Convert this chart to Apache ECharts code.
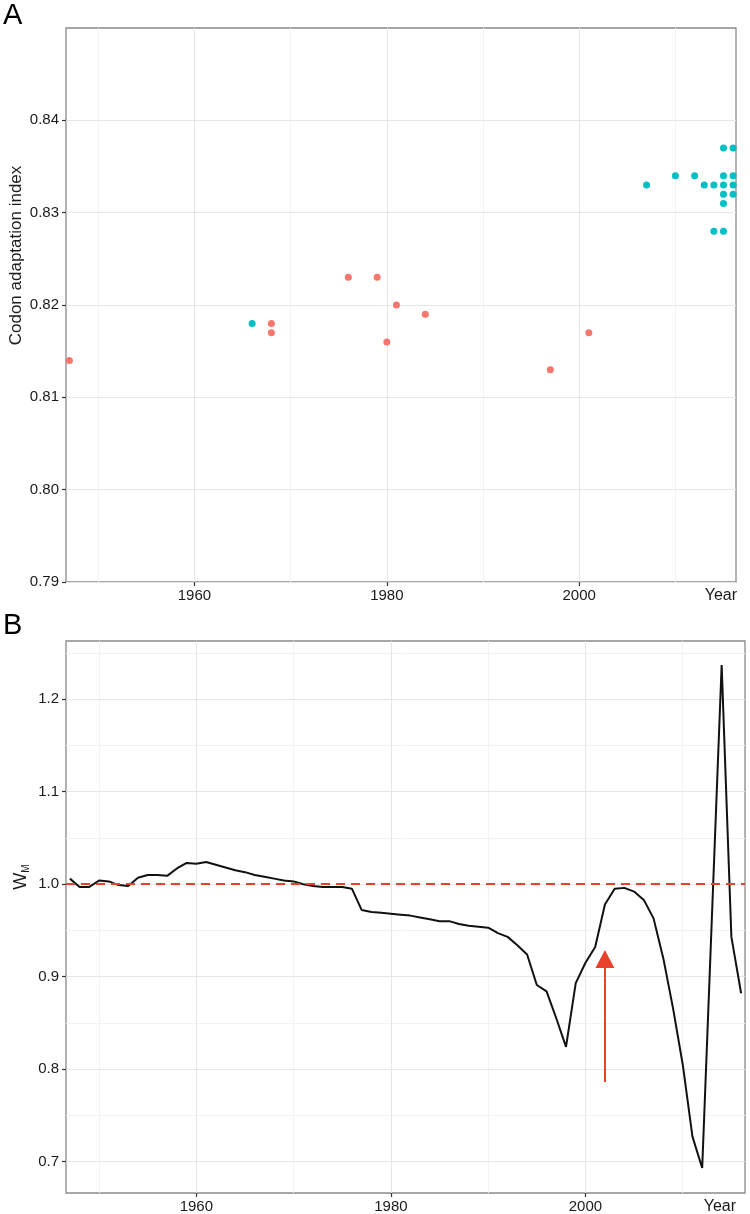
<!DOCTYPE html>
<html><head><meta charset="utf-8">
<script src="https://cdn.jsdelivr.net/npm/echarts@6/dist/echarts.min.js"></script>
<style>html,body{margin:0;padding:0;background:#fff}#c{width:750px;height:1214px}</style>
</head><body><div id="c"></div>
<script>
// ---- Panel A data ----
const redYears = [1947, 1968, 1968, 1976, 1979, 1980, 1981, 1984, 1997, 2001];
const redCAI   = [0.814, 0.818, 0.817, 0.823, 0.823, 0.816, 0.820, 0.819, 0.813, 0.817];
const cyanYears = [1966, 2007, 2010, 2012, 2013, 2014, 2014, 2015, 2015, 2015, 2015, 2015, 2015, 2016, 2016, 2016, 2016];
const cyanCAI   = [0.818, 0.833, 0.834, 0.834, 0.833, 0.833, 0.828, 0.837, 0.834, 0.833, 0.832, 0.831, 0.828, 0.837, 0.834, 0.833, 0.832];

// ---- Panel B data ----
const years = [1947,1948,1949,1950,1951,1952,1953,1954,1955,1956,1957,1958,1959,1960,1961,1962,1963,1964,1965,1966,
               1967,1968,1969,1970,1971,1972,1973,1974,1975,1976,1977,1978,1979,1980,1981,1982,1983,1984,1985,1986,
               1987,1988,1989,1990,1991,1992,1993,1994,1995,1996,1997,1998,1999,2000,2001,2002,2003,2004,2005,2006,
               2007,2008,2009,2010,2011,2012,2013,2014,2015,2016];
const wm = [1.006,0.997,0.997,1.004,1.003,0.999,0.998,1.007,1.010,1.010,1.009,1.017,1.023,1.022,1.024,1.021,1.018,1.015,1.013,1.010,
            1.008,1.006,1.004,1.003,1.000,0.998,0.997,0.997,0.997,0.995,0.972,0.970,0.969,0.968,0.967,0.966,0.964,0.962,0.960,0.960,
            0.957,0.955,0.954,0.953,0.947,0.943,0.934,0.924,0.891,0.884,0.855,0.824,0.893,0.915,0.932,0.978,0.995,0.996,0.992,0.983,
            0.963,0.920,0.866,0.805,0.727,0.693,0.965,1.237,0.943,0.882];
const refLine = 1.0;
const arrowYear = 2002;
const arrowFrom = 0.786;
const arrowTo = 0.919;

// ---- Ticks ----
const xLabelYears = [1960, 1980, 2000];
const xMinorYears = [1950, 1970, 1990, 2010];
const caiTicks = [0.79, 0.80, 0.81, 0.82, 0.83, 0.84];
const caiMinor = [0.795, 0.805, 0.815, 0.825, 0.835, 0.845];
const wmTicks = [0.7, 0.8, 0.9, 1.0, 1.1, 1.2];
const wmMinor = [0.75, 0.85, 0.95, 1.05, 1.15, 1.25];

const FONT = "'Liberation Sans', Arial, Helvetica, sans-serif";
const MAJOR = '#e6e6e6', MINOR = '#f2f2f2';
const RED = '#F8766D', CYAN = '#00BFC4', LINE_RED = '#E8412C';

function gridLines(xs, ys, color, width) {
  return xs.map(v => ({xAxis: v, lineStyle: {color: color, width: width, type: 'solid'}}))
    .concat(ys.map(v => ({yAxis: v, lineStyle: {color: color, width: width, type: 'solid'}})));
}
function gridSeries(idx, majorX, minorX, majorY, minorY) {
  return {
    type: 'line', xAxisIndex: idx, yAxisIndex: idx, data: [], silent: true, z: 0,
    markLine: {
      silent: true, z: 0, symbol: ['none', 'none'], animation: false,
      label: {show: false},
      data: gridLines(minorX, minorY, MINOR, 1).concat(gridLines(majorX, majorY, MAJOR, 1))
    }
  };
}
const tickStyle = {length: 4, lineStyle: {color: '#333', width: 1.2}};
const labelStyle = {fontSize: 15, color: '#1a1a1a', fontFamily: FONT};

const option = {
  animation: false,
  backgroundColor: '#fff',
  title: [
    {text: 'A', left: 3, top: 1, padding: 0, textStyle: {fontSize: 29, fontWeight: 'normal', color: '#000', fontFamily: FONT}},
    {text: 'B', left: 3, top: 611, padding: 0, textStyle: {fontSize: 29, fontWeight: 'normal', color: '#000', fontFamily: FONT}}
  ],
  grid: [
    {left: 66, right: 14, top: 28, bottom: 632, show: true, borderColor: '#8a8a8a', borderWidth: 1.3,
     backgroundColor: 'transparent', containLabel: false, outerBoundsMode: 'none'},
    {left: 66, right: 5, top: 641, bottom: 21, show: true, borderColor: '#8a8a8a', borderWidth: 1.3,
     backgroundColor: 'transparent', containLabel: false, outerBoundsMode: 'none'}
  ],
  xAxis: [
    {gridIndex: 0, type: 'value', min: 1946.65, max: 2016.3,
     axisLine: {show: false}, splitLine: {show: false},
     axisTick: Object.assign({customValues: xLabelYears}, tickStyle),
     axisLabel: Object.assign({customValues: xLabelYears, margin: 6, formatter: v => String(v)}, labelStyle),
     name: 'Year', nameLocation: 'end', nameGap: 1, nameMoveOverlap: false,
     nameTextStyle: {align: 'right', verticalAlign: 'top', padding: [6, 0, 0, 0], fontSize: 16, color: '#1a1a1a', fontFamily: FONT}},
    {gridIndex: 1, type: 'value', min: 1946.6, max: 2016.4,
     axisLine: {show: false}, splitLine: {show: false},
     axisTick: Object.assign({customValues: xLabelYears}, tickStyle),
     axisLabel: Object.assign({customValues: xLabelYears, margin: 6, formatter: v => String(v)}, labelStyle),
     name: 'Year', nameLocation: 'end', nameGap: -9, nameMoveOverlap: false,
     nameTextStyle: {align: 'right', verticalAlign: 'top', padding: [6, 0, 0, 0], fontSize: 16, color: '#1a1a1a', fontFamily: FONT}}
  ],
  yAxis: [
    {gridIndex: 0, type: 'value', min: 0.79, max: 0.85,
     axisLine: {show: false}, splitLine: {show: false},
     axisTick: Object.assign({customValues: caiTicks}, tickStyle),
     axisLabel: Object.assign({customValues: caiTicks, margin: 7, formatter: v => v.toFixed(2)}, labelStyle),
     name: 'Codon adaptation index', nameLocation: 'middle', nameGap: 41, nameMoveOverlap: false,
     nameTextStyle: {fontSize: 17, color: '#1a1a1a', fontFamily: FONT, padding: [0, 0, 0, 99]}},
    {gridIndex: 1, type: 'value', min: 0.666, max: 1.263,
     axisLine: {show: false}, splitLine: {show: false},
     axisTick: Object.assign({customValues: wmTicks}, tickStyle),
     axisLabel: Object.assign({customValues: wmTicks, margin: 7, formatter: v => v.toFixed(1)}, labelStyle),
     name: '{w|W}{m|M}', nameLocation: 'middle', nameGap: 33, nameMoveOverlap: false,
     nameTextStyle: {color: '#1a1a1a', fontFamily: FONT, padding: [0, 0, 0, 80],
       rich: {w: {fontSize: 18, fontFamily: FONT, color: '#1a1a1a', lineHeight: 24, verticalAlign: 'middle'},
              m: {fontSize: 10, fontFamily: FONT, color: '#1a1a1a', lineHeight: 24, verticalAlign: 'bottom', padding: [0, 0, 2, 0]}}}}
  ],
  series: [
    gridSeries(0, xLabelYears, xMinorYears, caiTicks, caiMinor),
    gridSeries(1, xLabelYears, xMinorYears, wmTicks, wmMinor),
    {type: 'scatter', xAxisIndex: 0, yAxisIndex: 0, z: 3, symbolSize: 7,
     itemStyle: {color: RED, opacity: 1},
     data: redYears.map((y, i) => [y, redCAI[i]])},
    {type: 'scatter', xAxisIndex: 0, yAxisIndex: 0, z: 3, symbolSize: 7,
     itemStyle: {color: CYAN, opacity: 1},
     data: cyanYears.map((y, i) => [y, cyanCAI[i]])},
    {type: 'line', xAxisIndex: 1, yAxisIndex: 1, z: 3, showSymbol: false, symbol: 'none',
     lineStyle: {color: '#111', width: 2},
     data: years.map((y, i) => [y, wm[i]]),
     markLine: {
       silent: true, z: 4, animation: false, label: {show: false},
       data: [
         {yAxis: refLine, symbol: 'none', lineStyle: {color: LINE_RED, width: 2, type: [9, 6]}},
         [{coord: [arrowYear, arrowFrom], symbol: 'none'},
          {coord: [arrowYear, arrowTo], symbol: 'triangle', symbolSize: [19, 18],
           lineStyle: {color: LINE_RED, width: 2, type: 'solid'}}]
       ],
       symbol: ['none', 'none']
     }}
  ]
};
const chart = echarts.init(document.getElementById('c'), null, {renderer: 'canvas'});
chart.setOption(option);
</script></body></html>
